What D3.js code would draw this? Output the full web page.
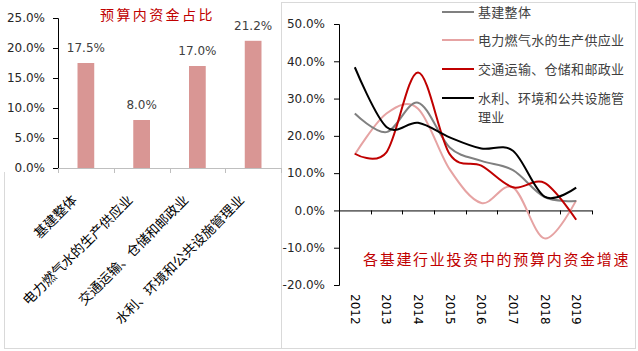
<!DOCTYPE html>
<html>
<head>
<meta charset="utf-8">
<script src="https://cdn.jsdelivr.net/npm/d3@7"></script>
<style>
  body { margin: 0; background: #fff; }
  text { font-family: "DejaVu Sans", sans-serif; }
  .cjk { font-family: "Noto Sans CJK SC", sans-serif; }
</style>
</head>
<body>
<svg id="chart" width="638" height="351"></svg>
<script>
// left chart: share of budget funds
const shareCats = ["基建整体", "电力燃气水的生产供应业", "交通运输、仓储和邮政业", "水利、环境和公共设施管理业"];
const shareVals = [17.5, 8.0, 17.0, 21.2];
const shareTicks = [0, 5, 10, 15, 20, 25];

// right chart: growth of budget funds
const years = ["2012", "2013", "2014", "2015", "2016", "2017", "2018", "2019"];
const seriesNames = ["基建整体", "电力燃气水的生产供应业", "交通运输、仓储和邮政业", "水利、环境和公共设施管理业"];
const totalGrowth = [26.0, 21.0, 28.9, 16.9, 13.3, 10.8, 3.6, 2.5];
const powerGrowth = [15.0, 26.0, 27.3, 11.0, 2.0, 6.2, -7.5, 2.7];
const transGrowth = [15.2, 15.6, 37.0, 15.1, 12.0, 6.2, 7.4, -2.5];
const waterGrowth = [38.4, 22.4, 23.5, 19.6, 16.6, 16.0, 3.7, 6.1];
const growthTicks = [-20, -10, 0, 10, 20, 30, 40, 50];
const seriesColors = ["#808080", "#E6A3A3", "#C00000", "#000000"];

const svg = d3.select("#chart");
const fmt = d => d.toFixed(1) + "%";

// panel borders
const border = "#D9D9D9";
svg.append("line").attr("x1", 4.5).attr("x2", 4.5).attr("y1", 172).attr("y2", 349).attr("stroke", border);
svg.append("line").attr("x1", 4).attr("x2", 636).attr("y1", 348.5).attr("y2", 348.5).attr("stroke", border);
svg.append("rect").attr("x", 281.5).attr("y", 2.5).attr("width", 354).attr("height", 346)
  .attr("fill", "none").attr("stroke", border);

// ---------- left bar chart ----------
const xL = d3.scaleBand().domain(shareCats).range([58, 281]).paddingInner(0.7).paddingOuter(0.35);
const yL = d3.scaleLinear().domain([0, 25]).range([168, 18]);

const axL = svg.append("g").attr("transform", "translate(58,0)")
  .call(d3.axisLeft(yL).tickValues(shareTicks).tickFormat(fmt).tickSizeOuter(0).tickSize(5));
axL.select(".domain").attr("stroke", "#000");
axL.selectAll(".tick line").attr("stroke", "#000");
axL.selectAll("text").attr("font-size", 12).attr("fill", "#262626").attr("x", -13);

// x axis with boundary ticks
const bounds = d3.range(shareCats.length + 1).map(i => 58 + i * (281 - 58) / shareCats.length);
svg.append("line").attr("x1", 58).attr("x2", 281).attr("y1", 168.5).attr("y2", 168.5).attr("stroke", "#BFBFBF");
svg.selectAll(".lt").data(bounds).join("line")
  .attr("x1", d => Math.round(d) + 0.5).attr("x2", d => Math.round(d) + 0.5)
  .attr("y1", 168).attr("y2", 173).attr("stroke", "#BFBFBF");

svg.selectAll(".bar").data(shareVals).join("rect")
  .attr("x", (d, i) => xL(shareCats[i]))
  .attr("width", xL.bandwidth())
  .attr("y", d => yL(d))
  .attr("height", d => yL(0) - yL(d))
  .attr("fill", "#D99694");

svg.selectAll(".blab").data(shareVals).join("text")
  .attr("x", (d, i) => xL(shareCats[i]) + xL.bandwidth() / 2)
  .attr("y", d => yL(d) - 11)
  .attr("text-anchor", "middle")
  .attr("font-size", 12).attr("fill", "#404040")
  .text(fmt);

svg.selectAll(".xlab").data(shareCats).join("text")
  .attr("class", "cjk")
  .attr("transform", d => `translate(${xL(d) + xL.bandwidth() / 2 - 8},${201}) rotate(-45)`)
  .attr("text-anchor", "end")
  .attr("font-size", 13.5).attr("fill", "#000")
  .text(d => d);

svg.append("text").attr("class", "cjk")
  .attr("x", 100).attr("y", 20)
  .attr("font-size", 14).attr("letter-spacing", 2.4)
  .attr("fill", "#C00000")
  .text("预算内资金占比");

// ---------- right line chart ----------
const xR = d3.scaleBand().domain(years).range([339, 592]);
const yR = d3.scaleLinear().domain([-20, 50]).range([285, 24]);

const axR = svg.append("g").attr("transform", "translate(339,0)")
  .call(d3.axisLeft(yR).tickValues(growthTicks).tickFormat(fmt).tickSizeOuter(0).tickSize(5));
axR.select(".domain").attr("stroke", "#000");
axR.selectAll(".tick line").attr("stroke", "#000");
axR.selectAll("text").attr("font-size", 12).attr("fill", "#262626").attr("x", -14);

// x axis at zero
const yearBounds = d3.range(years.length + 1).map(i => 339 + i * xR.step());
svg.append("line").attr("x1", 339).attr("x2", 592).attr("y1", yR(0) + 0.5).attr("y2", yR(0) + 0.5).attr("stroke", "#000");
svg.selectAll(".rt").data(yearBounds).join("line")
  .attr("x1", d => Math.round(d) + 0.5).attr("x2", d => Math.round(d) + 0.5)
  .attr("y1", yR(0)).attr("y2", yR(0) + 4).attr("stroke", "#000");

svg.selectAll(".ylab").data(years).join("text")
  .attr("transform", d => `translate(${xR(d) + xR.bandwidth() / 2 - 4},${294}) rotate(90)`)
  .attr("font-size", 12).attr("fill", "#000")
  .text(d => d);

const allSeries = [totalGrowth, powerGrowth, transGrowth, waterGrowth];
const line = d3.line()
  .x((d, i) => xR(years[i]) + xR.bandwidth() / 2)
  .y(d => yR(d))
  .curve(d3.curveCatmullRom.alpha(0));

// draw order: power, total, transport, water
[1, 0, 2, 3].forEach(k => {
  svg.append("path").datum(allSeries[k])
    .attr("d", line).attr("fill", "none")
    .attr("stroke", seriesColors[k]).attr("stroke-width", 2);
});

// legend
const legY = [12, 40, 69, 98];
seriesNames.forEach((n, i) => {
  svg.append("line").attr("x1", 442).attr("x2", 474).attr("y1", legY[i]).attr("y2", legY[i])
    .attr("stroke", seriesColors[i]).attr("stroke-width", 2);
});
const legText = [["基建整体"], ["电力燃气水的生产供应业"], ["交通运输、仓储和邮政业"], ["水利、环境和公共设施管", "理业"]];
legText.forEach((lines, i) => {
  lines.forEach((t, j) => {
    svg.append("text").attr("class", "cjk")
      .attr("x", 478).attr("y", legY[i] + 5 + j * 18.5)
      .attr("font-size", 13).attr("letter-spacing", 0.3).attr("fill", "#404040")
      .text(t);
  });
});

svg.append("text").attr("class", "cjk")
  .attr("x", 363).attr("y", 265)
  .attr("font-size", 15).attr("letter-spacing", 1.7)
  .attr("fill", "#C00000")
  .text("各基建行业投资中的预算内资金增速");
</script>
</body>
</html>
